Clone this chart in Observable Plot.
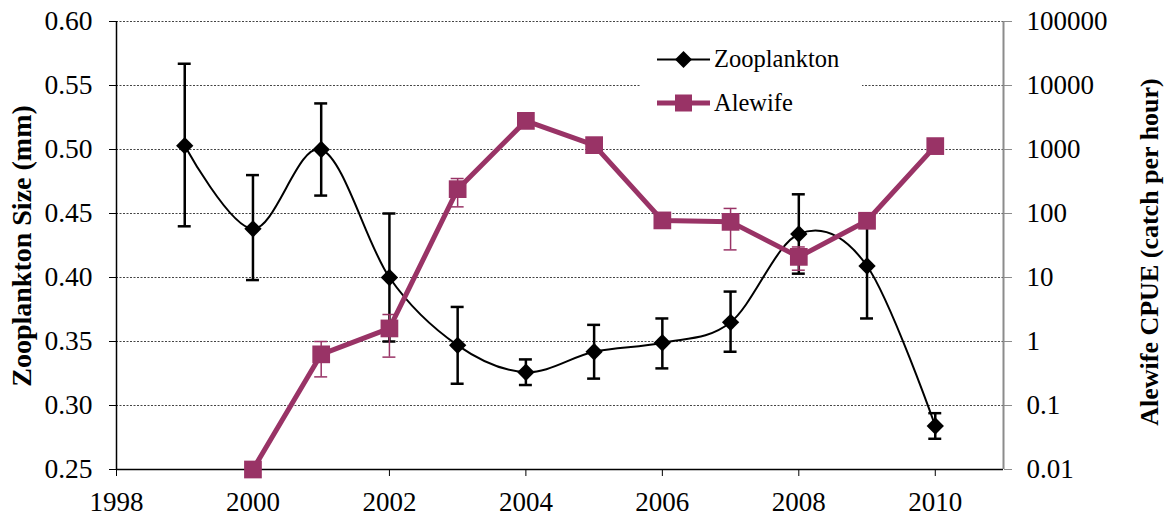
<!DOCTYPE html>
<html>
<head>
<meta charset="utf-8">
<script src="https://cdn.jsdelivr.net/npm/d3@7"></script>
<script src="https://cdn.jsdelivr.net/npm/@observablehq/plot@0.6"></script>
<style>
  html, body { margin: 0; padding: 0; background: #ffffff; }
  #wrap { position: relative; width: 1168px; height: 517px; font-family: "Liberation Serif", "Times New Roman", serif; }
  #wrap > svg { position: absolute; left: 0; top: 0; }
  .ytitle { position: absolute; font-weight: bold; white-space: nowrap; color: #000; transform-origin: center center; }
</style>
</head>
<body>
<div id="wrap"></div>
<script>
// ---- data ----
const years = [1999, 2000, 2001, 2002, 2003, 2004, 2005, 2006, 2007, 2008, 2009, 2010];
const zooSize = [0.503, 0.438, 0.500, 0.400, 0.347, 0.326, 0.342, 0.349, 0.365, 0.434, 0.409, 0.284];
const zooLow  = [0.440, 0.398, 0.464, 0.350, 0.317, 0.316, 0.321, 0.329, 0.342, 0.403, 0.368, 0.274];
const zooHigh = [0.567, 0.480, 0.536, 0.450, 0.377, 0.336, 0.363, 0.368, 0.389, 0.465, 0.450, 0.294];

const alewifeYears = [2000, 2001, 2002, 2003, 2004, 2005, 2006, 2007, 2008, 2009, 2010];
const alewifeCPUE  = [0.01, 0.63, 1.6, 240, 2800, 1170, 78, 74, 21, 77, 1130];
const alewifeLow   = [null, 0.28, 0.57, 127, null, null, null, 27, 13, null, null];
const alewifeHigh  = [null, 1.0, 2.64, 352, null, null, null, 120, 30, null, null];

const xTicks = [1998, 2000, 2002, 2004, 2006, 2008, 2010];
const leftTicks = [0.25, 0.30, 0.35, 0.40, 0.45, 0.50, 0.55, 0.60];
const rightTicks = [0.01, 0.1, 1, 10, 100, 1000, 10000, 100000];
const xDomain = [1998, 2011];
const leftDomain = [0.25, 0.60];
const rightDomain = [0.01, 100000];

const seriesNames = ["Zooplankton", "Alewife"];
const leftTitle = "Zooplankton Size (mm)";
const rightTitle = "Alewife CPUE (catch per hour)";

// ---- tables ----
const zoo = years.map((y, i) => ({year: y, v: zooSize[i], lo: zooLow[i], hi: zooHigh[i]}));
const ale = alewifeYears.map((y, i) => ({year: y, v: alewifeCPUE[i], lo: alewifeLow[i], hi: alewifeHigh[i]}));
const aleErr = ale.filter(d => d.lo != null);

const PLUM = "#993366";
const W = 1168, H = 517;
const M = {left: 116, right: 165, top: 21, bottom: 48};
const capHalf = 0.095;
const font = "Liberation Serif";

const common = {
  width: W, height: H,
  marginLeft: M.left, marginRight: M.right, marginTop: M.top, marginBottom: M.bottom,
  style: {fontFamily: font, fontSize: "26px", color: "#000", background: "transparent", overflow: "visible"}
};

// ---- left-axis plot (zooplankton, grid) ----
const p1 = Plot.plot({
  ...common,
  x: {domain: xDomain},
  y: {domain: leftDomain},
  marks: [
    Plot.ruleY(leftTicks.slice(1), {stroke: "#444", strokeWidth: 1, strokeDasharray: "2,1.5"}),
    Plot.axisY({ticks: leftTicks, tickFormat: d => d.toFixed(2), tickSize: 7, tickPadding: 17, fontSize: 27.5, fontFamily: font, label: null, stroke: "#000"}),
    Plot.axisX({ticks: xTicks, tickFormat: d => String(d), tickSize: 7, tickPadding: 15, fontSize: 27, fontFamily: font, label: null, stroke: "#000"}),
    Plot.ruleX([xDomain[0]], {stroke: "#000", strokeWidth: 1.5}),
    Plot.ruleY([leftDomain[0]], {stroke: "#000", strokeWidth: 1.5}),
    Plot.ruleX(zoo, {x: "year", y1: "lo", y2: "hi", stroke: "#000", strokeWidth: 2.5}),
    Plot.ruleY(zoo, {y: "lo", x1: d => d.year - capHalf, x2: d => d.year + capHalf, stroke: "#000", strokeWidth: 2.5}),
    Plot.ruleY(zoo, {y: "hi", x1: d => d.year - capHalf, x2: d => d.year + capHalf, stroke: "#000", strokeWidth: 2.5}),
    Plot.line(zoo, {x: "year", y: "v", curve: "cardinal", tension: 0, stroke: "#000", strokeWidth: 2}),
    Plot.dot(zoo, {x: "year", y: "v", symbol: "diamond2", r: 7.8, fill: "#000", stroke: "none"})
  ]
});

// ---- right-axis plot (alewife, log) ----
const p2 = Plot.plot({
  ...common,
  x: {domain: xDomain, axis: null},
  y: {type: "log", domain: rightDomain},
  marks: [
    Plot.ruleX([xDomain[1]], {stroke: "#8c8c8c", strokeWidth: 2}),
    Plot.axisY({anchor: "right", ticks: rightTicks, tickFormat: d => String(d), tickSize: 8, tickPadding: 15, fontSize: 27, fontFamily: font, label: null, stroke: "#8c8c8c", fill: "#000"}),
    Plot.ruleX(aleErr, {x: "year", y1: "lo", y2: "hi", stroke: PLUM, strokeWidth: 1.5}),
    Plot.ruleY(aleErr, {y: "lo", x1: d => d.year - capHalf, x2: d => d.year + capHalf, stroke: PLUM, strokeWidth: 1.5}),
    Plot.ruleY(aleErr, {y: "hi", x1: d => d.year - capHalf, x2: d => d.year + capHalf, stroke: PLUM, strokeWidth: 1.5}),
    Plot.line(ale, {x: "year", y: "v", stroke: PLUM, strokeWidth: 5, strokeLinejoin: "miter"}),
    Plot.dot(ale, {x: "year", y: "v", symbol: "square", r: 10, fill: PLUM, stroke: "none"})
  ]
});

const wrap = document.getElementById("wrap");
wrap.appendChild(p1);

// legend (white box covering grid)
const ns = "http://www.w3.org/2000/svg";
const leg = document.createElementNS(ns, "svg");
leg.setAttribute("width", W); leg.setAttribute("height", H);
leg.innerHTML = `
  <rect x="640" y="32" width="222" height="98" fill="#fff"/>
  <line x1="657" x2="710" y1="59.5" y2="59.5" stroke="#000" stroke-width="2"/>
  <path d="M683.5,51 L692,59.5 L683.5,68 L675,59.5 Z" fill="#000"/>
  <text x="714" y="67" font-family="${font}" font-size="24.5" fill="#000">${seriesNames[0]}</text>
  <line x1="657" x2="710" y1="103" y2="103" stroke="${PLUM}" stroke-width="5"/>
  <rect x="675" y="94.5" width="17" height="17" fill="${PLUM}"/>
  <text x="714" y="111" font-family="${font}" font-size="24.5" fill="#000">${seriesNames[1]}</text>
`;
wrap.appendChild(leg);
wrap.appendChild(p2);

// axis titles
function addTitle(text, cx, cy, size) {
  const d = document.createElement("div");
  d.className = "ytitle";
  d.textContent = text;
  d.style.fontSize = size + "px";
  wrap.appendChild(d);
  const w = d.offsetWidth, h = d.offsetHeight;
  d.style.left = (cx - w / 2) + "px";
  d.style.top = (cy - h / 2) + "px";
  d.style.transform = "rotate(-90deg)";
}
addTitle(leftTitle, 22, 246, 28);
addTitle(rightTitle, 1150, 252, 26);
</script>
</body>
</html>
